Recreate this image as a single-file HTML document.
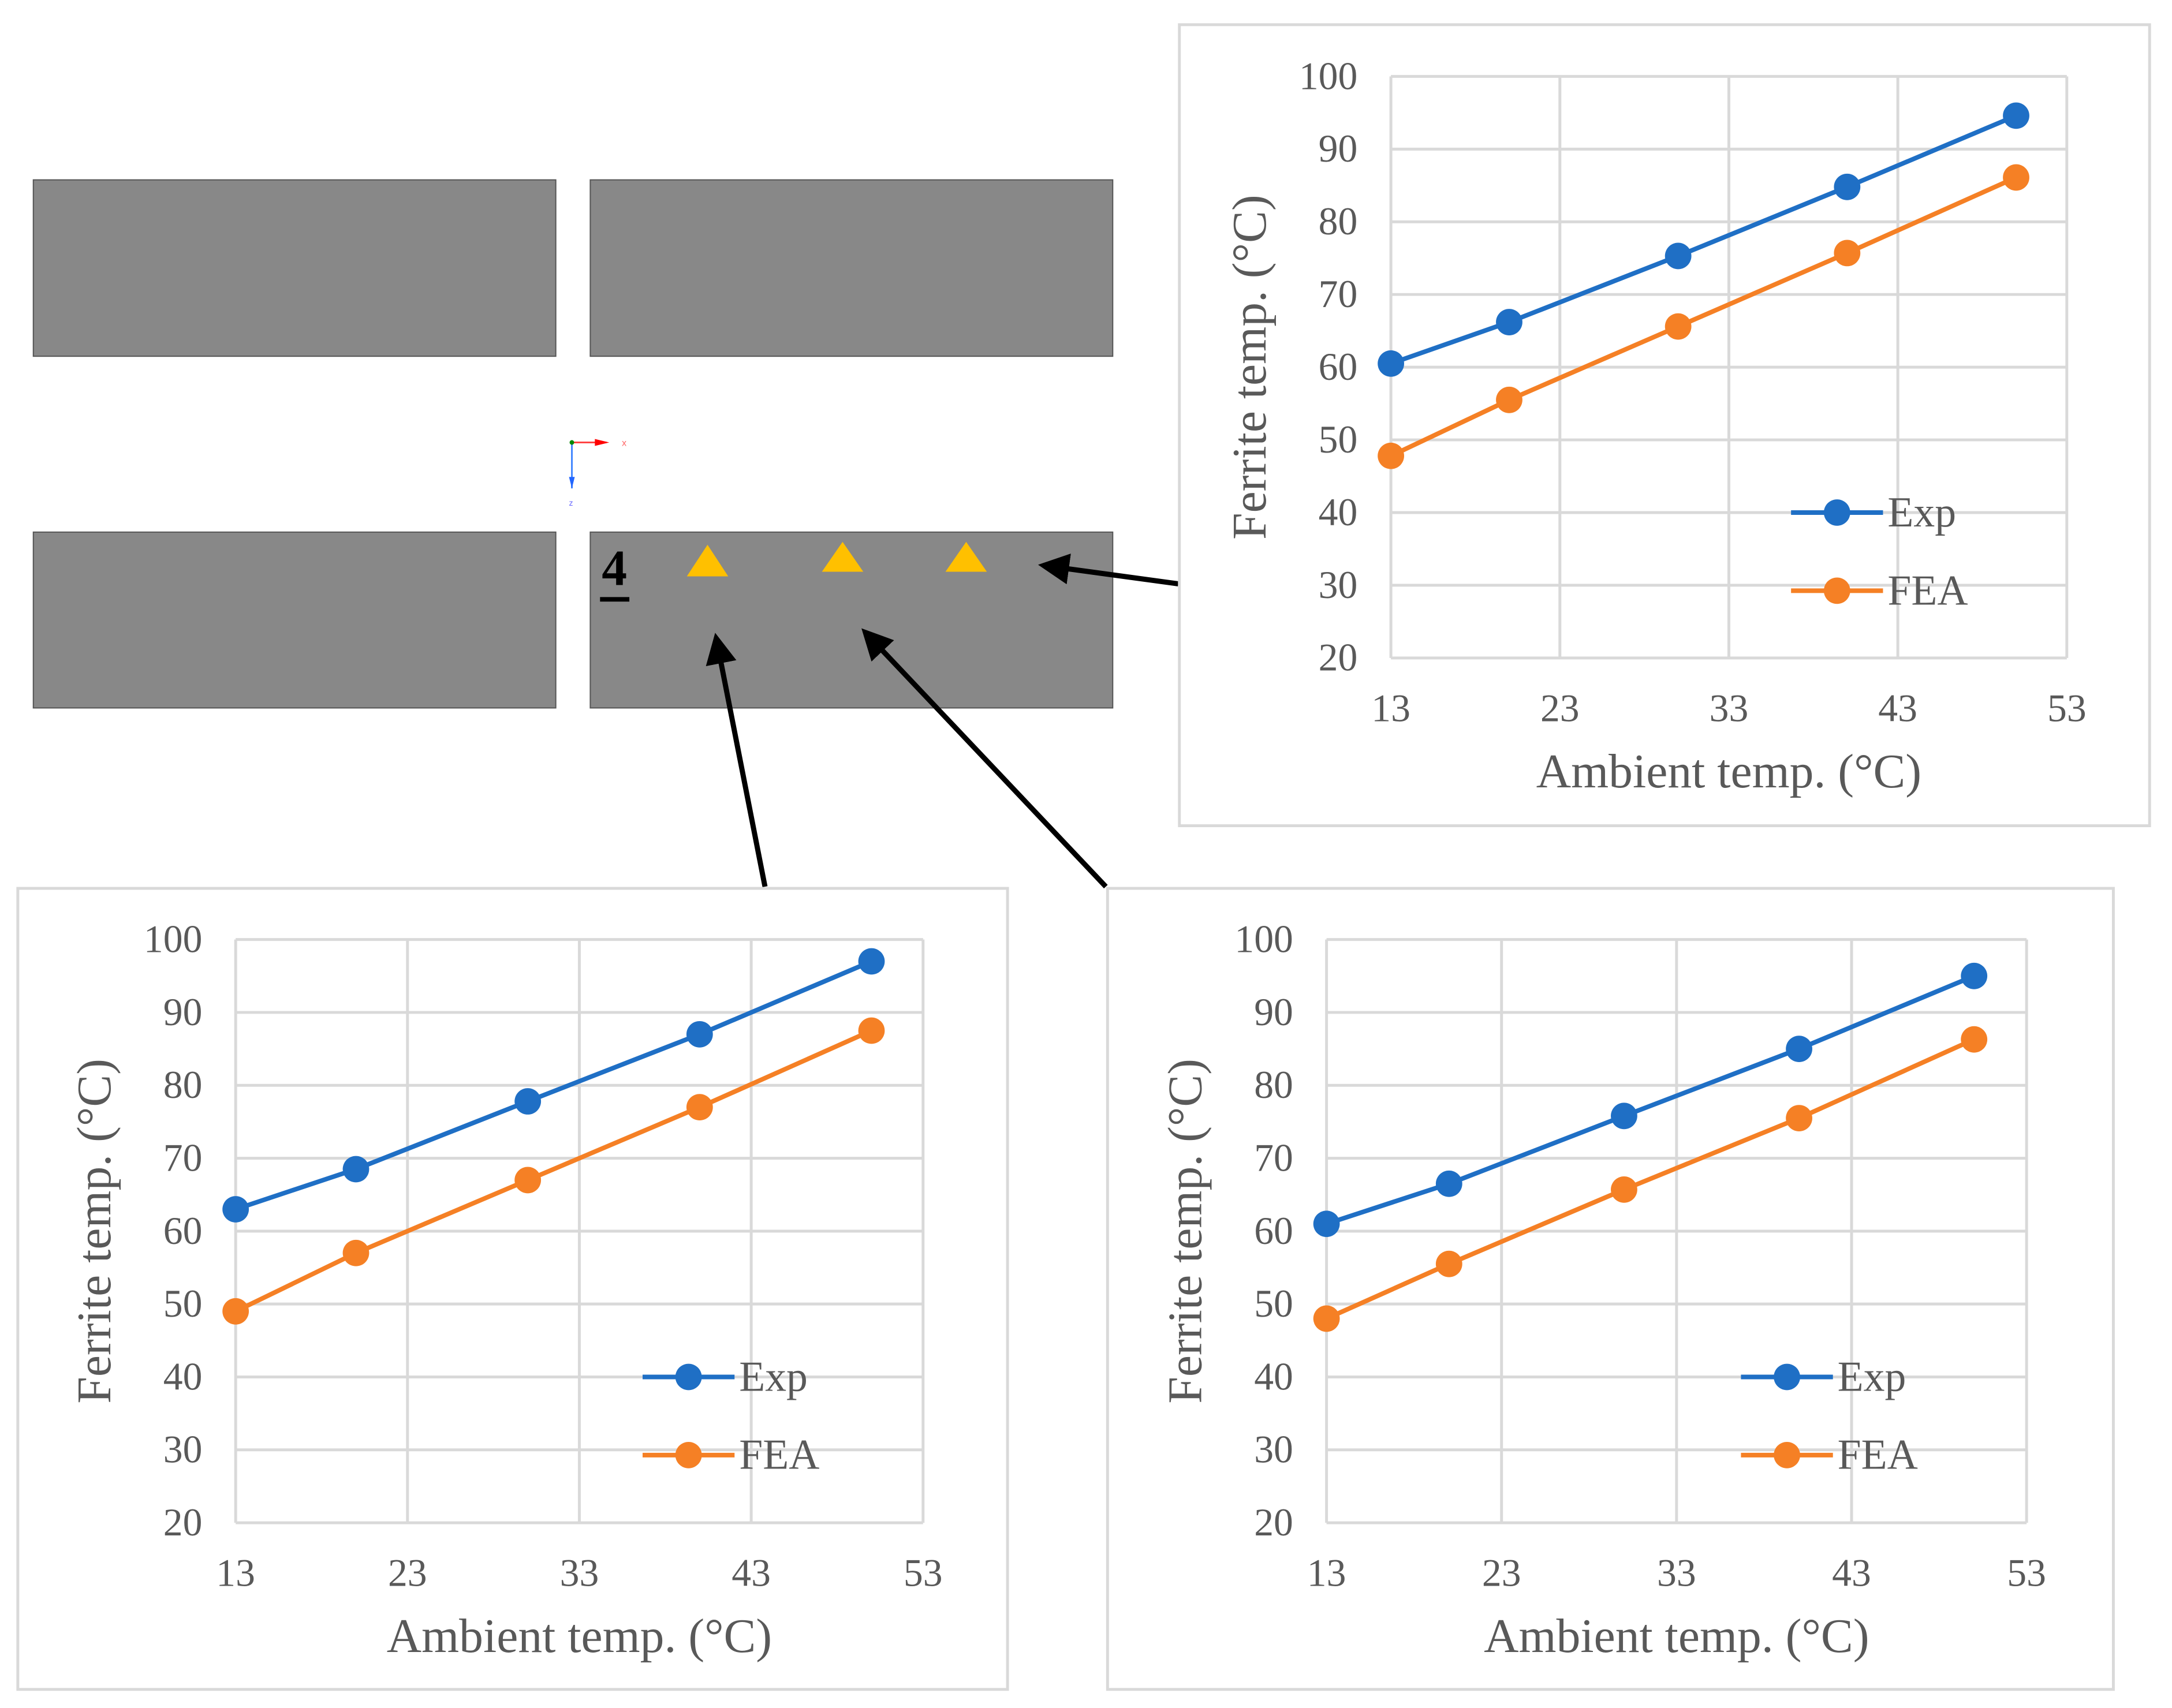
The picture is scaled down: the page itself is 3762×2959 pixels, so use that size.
<!DOCTYPE html>
<html><head><meta charset="utf-8">
<style>
html,body{margin:0;padding:0;background:#fff;}
svg{display:block;font-family:"Liberation Serif",serif;}
</style></head>
<body>
<svg id="root" width="3762" height="2959" viewBox="0 0 3762 2959">
  <defs>
    <marker id="ah" markerWidth="6" markerHeight="6" refX="5" refY="3" orient="auto" markerUnits="strokeWidth">
      <path d="M0,0 L6,3 L0,6 z" fill="#000"/>
    </marker>
  </defs>
  <g transform="scale(0.9955)">
  <g>
    <rect x="58" y="313" width="909" height="307" fill="#888" stroke="#555" stroke-width="2"/>
    <rect x="1027" y="313" width="909" height="307" fill="#888" stroke="#555" stroke-width="2"/>
    <rect x="58" y="926" width="909" height="306" fill="#888" stroke="#555" stroke-width="2"/>
    <rect x="1027" y="926" width="909" height="306" fill="#888" stroke="#555" stroke-width="2"/>
    <g>
      <line x1="995" y1="770" x2="1055" y2="770" stroke="#f44" stroke-width="3"/>
      <polygon points="1035,764 1060,770 1035,776" fill="#f00"/>
      <text x="1082" y="776" font-size="16" fill="#f66" font-family="Liberation Sans,sans-serif">x</text>
      <line x1="995" y1="770" x2="995" y2="850" stroke="#48f" stroke-width="3"/>
      <polygon points="990,830 995,850 1000,830" fill="#26f"/>
      <circle cx="995" cy="770" r="4" fill="#080"/>
      <text x="990" y="880" font-size="14" fill="#66f" font-family="Liberation Sans,sans-serif">z</text>
    </g>
    <text x="1047" y="1018" font-size="88" font-weight="bold" fill="#000">4</text>
    <line x1="1044" y1="1043" x2="1095" y2="1043" stroke="#000" stroke-width="8"/>
    <polygon points="1231,948 1195,1003 1267,1003" fill="#ffc000"/>
    <polygon points="1466,943 1430,995 1502,995" fill="#ffc000"/>
    <polygon points="1681,943 1645,995 1717,995" fill="#ffc000"/>
    <line x1="2050" y1="1016" x2="1815" y2="984" stroke="#000" stroke-width="9" marker-end="url(#ah)"/>
    <line x1="1331" y1="1543" x2="1246" y2="1110" stroke="#000" stroke-width="9" marker-end="url(#ah)"/>
    <line x1="1924" y1="1543" x2="1505" y2="1100" stroke="#000" stroke-width="9" marker-end="url(#ah)"/>
  </g>
  <g id="charts"></g>
  </g>
</svg>
<script>
const categories = [13, 20, 30, 40, 50];
const xTicks = [13, 23, 33, 43, 53];
const yTicks = [20, 30, 40, 50, 60, 70, 80, 90, 100];
const seriesNames = ["Exp", "FEA"];
const expTop = [60.5, 66.2, 75.3, 84.8, 94.6];
const feaTop = [47.8, 55.5, 65.6, 75.7, 86.1];
const expLeft = [63, 68.5, 77.8, 87, 97];
const feaLeft = [49, 57, 67, 77, 87.5];
const expRight = [61, 66.5, 75.8, 85, 95];
const feaRight = [48, 55.5, 65.7, 75.5, 86.3];

const NS = "http://www.w3.org/2000/svg";
const colors = ["#1f6fc5", "#f58025"];
function mk(tag, attrs, parent) {
  const e = document.createElementNS(NS, tag);
  for (const k in attrs) e.setAttribute(k, attrs[k]);
  parent.appendChild(e);
  return e;
}
function drawChart(name, box, plot, exp, fea) {
  const root = document.getElementById("charts");
  const g = mk("g", {}, root);
  
  
  const fr = mk("rect", {x: box[0], y: box[1], width: box[2], height: box[3], fill: "#fff", stroke: "#d9d9d9", "stroke-width": 5}, g);
  
  
  const [px, py, pw, ph] = plot;
  const xMin = xTicks[0], xMax = xTicks[xTicks.length - 1];
  const yMin = yTicks[0], yMax = yTicks[yTicks.length - 1];
  const X = v => px + (v - xMin) / (xMax - xMin) * pw;
  const Y = v => py + ph - (v - yMin) / (yMax - yMin) * ph;
  yTicks.forEach(t => {
    const l = mk("line", {x1: px, x2: px + pw, y1: Y(t), y2: Y(t), stroke: "#d9d9d9", "stroke-width": 5}, g);
    
    
    const tx = mk("text", {x: px - 58, y: Y(t) + 22, "text-anchor": "end", "font-size": 68, fill: "#595959"}, g);
    tx.textContent = t;
    
    
  });
  xTicks.forEach(t => {
    const l = mk("line", {x1: X(t), x2: X(t), y1: py, y2: py + ph, stroke: "#d9d9d9", "stroke-width": 5}, g);
    
    
    const tx = mk("text", {x: X(t), y: py + ph + 110, "text-anchor": "middle", "font-size": 68, fill: "#595959"}, g);
    tx.textContent = t;
    
    
  });
  const xt = mk("text", {x: px + pw / 2, y: py + ph + 225, "text-anchor": "middle", "font-size": 84, fill: "#595959"}, g);
  xt.textContent = "Ambient temp. (°C)";
  
  
  const yt = mk("text", {x: 0, y: 0, "text-anchor": "middle", "font-size": 84, fill: "#595959",
    transform: `translate(${px - 218},${py + ph / 2}) rotate(-90)`}, g);
  yt.textContent = "Ferrite temp. (°C)";
  
  
  [exp, fea].forEach((s, i) => {
    const pts = s.map((v, j) => X(categories[j]) + "," + Y(v)).join(" ");
    const pl = mk("polyline", {points: pts, fill: "none", stroke: colors[i], "stroke-width": 8}, g);
    
    
    s.forEach((v, j) => {
      const c = mk("circle", {cx: X(categories[j]), cy: Y(v), r: 23, fill: colors[i]}, g);
      
      
    });
    const ly = Y(40) + i * 136;
    const lx = px + pw * 0.592;
    const ll = mk("line", {x1: lx, x2: lx + 160, y1: ly, y2: ly, stroke: colors[i], "stroke-width": 8}, g);
    
    
    const lc = mk("circle", {cx: lx + 80, cy: ly, r: 23, fill: colors[i]}, g);
    
    
    const lt = mk("text", {x: lx + 168, y: ly + 24, "font-size": 74, fill: "#595959"}, g);
    lt.textContent = seriesNames[i];
    
    
  });
}
drawChart("chart-top-right", [2052, 43, 1688, 1394], [2420, 133, 1176, 1012], expTop, feaTop);
drawChart("chart-bottom-left", [31, 1546, 1722, 1394], [410, 1635, 1196, 1015], expLeft, feaLeft);
drawChart("chart-bottom-right", [1927, 1546, 1750, 1394], [2308, 1635, 1218, 1015], expRight, feaRight);
</script>
</body></html>
